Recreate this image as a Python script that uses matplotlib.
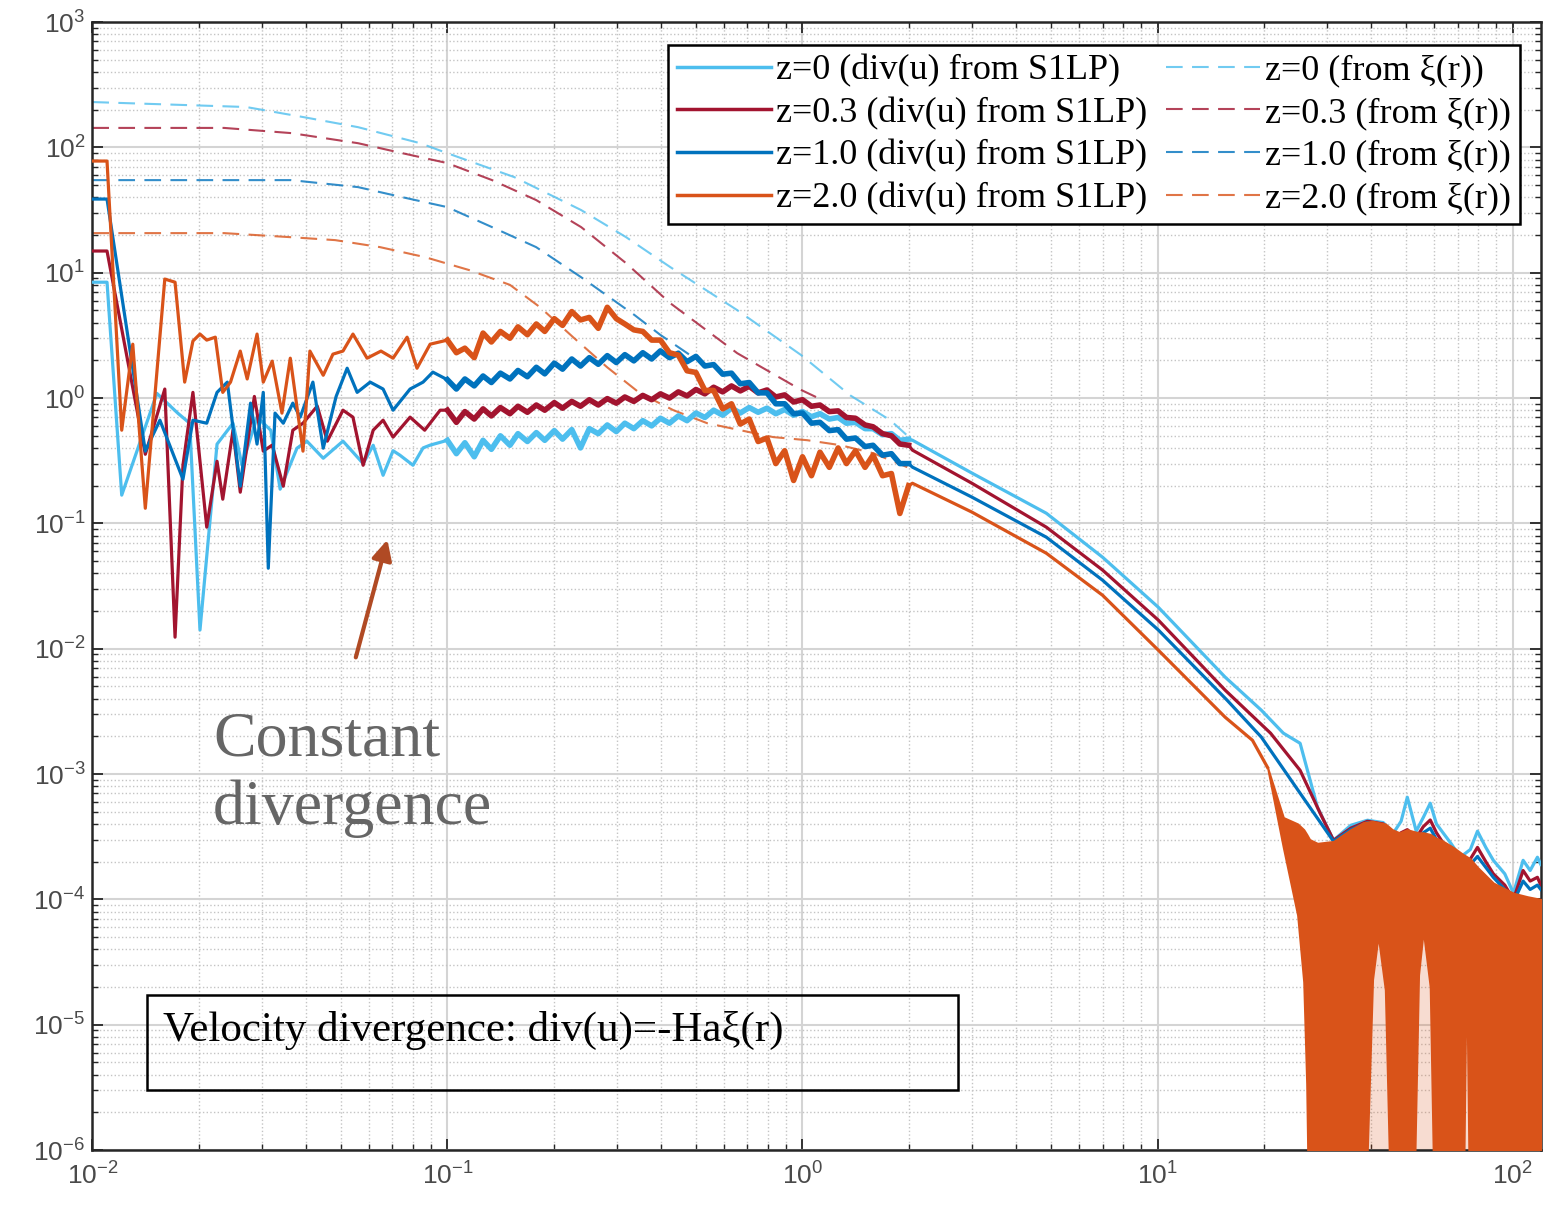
import matplotlib
matplotlib.use('Agg')
import matplotlib.pyplot as plt
from matplotlib.patches import Rectangle
from matplotlib.ticker import LogLocator, NullFormatter

plt.rcParams['font.family'] = ['Liberation Sans', 'DejaVu Sans']
plt.rcParams['mathtext.default'] = 'regular'

# MATLAB default colours
c_z0 = '#4DBEEE'
c_z03 = '#A2142F'
c_z1 = '#0072BD'
c_z2 = '#D95319'

# ---------- solid curves: div(u) from S1LP ----------
# small r (noisy part)
r_z0_lo = [0.0100, 0.0110, 0.0121, 0.0152, 0.0174, 0.0188, 0.0201, 0.02245, 0.0249, 0.0264,
           0.0291, 0.0318, 0.0338, 0.0377, 0.0402, 0.0447, 0.0508, 0.0542, 0.0579, 0.0618,
           0.0659, 0.0703, 0.0735, 0.0800, 0.0854, 0.0894]
v_z0_lo = [8.4, 8.4, 0.168, 1.09, 0.758, 0.63, 0.0141, 0.429, 0.63, 0.291,
           0.704, 0.554, 0.1875, 0.398, 0.453, 0.331, 0.453, 0.37, 0.30, 0.42,
           0.242, 0.38, 0.35, 0.291, 0.40, 0.421]

r_z03_lo = [0.0100, 0.0110, 0.0141, 0.0160, 0.0171, 0.0180, 0.0192, 0.0210, 0.02245, 0.0233,
            0.0249, 0.0261, 0.0286, 0.0303, 0.0321, 0.0345, 0.0367, 0.0392, 0.0430, 0.0459,
            0.0508, 0.0542, 0.0579, 0.0618, 0.0659, 0.0703, 0.0785, 0.0863, 0.0954]
v_z03_lo = [14.9, 14.9, 0.356, 1.18, 0.01236, 0.291, 1.11, 0.0933, 0.313, 0.156,
            0.554, 0.1774, 1.03, 0.377, 0.421, 0.198, 0.554, 0.63, 0.862, 0.453,
            0.80, 0.704, 0.291, 0.554, 0.666, 0.488, 0.704, 0.554, 0.80]

r_z1_lo = [0.0100, 0.0110, 0.0141, 0.0155, 0.0180, 0.0192, 0.0210, 0.02245, 0.0240, 0.0261,
           0.0279, 0.0291, 0.0303, 0.0313, 0.0327, 0.0345, 0.0367, 0.0385, 0.0418, 0.0447,
           0.0486, 0.0522, 0.0557, 0.0606, 0.0659, 0.0703, 0.0785, 0.0854, 0.0910]
v_z1_lo = [38.7, 38.7, 0.377, 0.666, 0.225, 0.666, 0.63, 1.11, 1.34, 0.198,
           0.911, 0.429, 1.11, 0.0439, 0.758, 0.63, 0.911, 0.704, 1.34, 0.398,
           1.03, 1.73, 1.11, 1.34, 1.18, 0.80, 1.18, 1.34, 1.61]

r_z2_lo = [0.0100, 0.0110, 0.0121, 0.0130, 0.0141, 0.0160, 0.0171, 0.0182, 0.0192, 0.0201,
           0.0210, 0.0222, 0.0233, 0.0245, 0.0261, 0.0273, 0.0291, 0.0303, 0.0321, 0.0342,
           0.0361, 0.0392, 0.0410, 0.0447, 0.0476, 0.0508, 0.0542, 0.0594, 0.0650, 0.0703,
           0.0770, 0.0821, 0.0894]
v_z2_lo = [77.8, 77.8, 0.554, 2.69, 0.132, 8.9, 8.4, 1.34, 2.85, 3.24,
           2.90, 3.06, 1.11, 1.34, 2.37, 1.42, 3.24, 1.34, 1.97, 0.758,
           2.08, 0.377, 2.37, 1.52, 2.24, 2.37, 3.24, 2.08, 2.37, 2.08,
           3.06, 1.73, 2.69]

# middle range 0.1 .. 2 (shared r points)
r_mid = [0.100, 0.106, 0.112, 0.119, 0.126, 0.133, 0.141, 0.150, 0.158, 0.168,
         0.178, 0.188, 0.200, 0.211, 0.224, 0.237, 0.251, 0.266, 0.282, 0.299,
         0.316, 0.335, 0.355, 0.376, 0.398, 0.422, 0.447, 0.473, 0.501, 0.531,
         0.562, 0.596, 0.631, 0.668, 0.708, 0.750, 0.794, 0.841, 0.891, 0.944,
         1.00, 1.06, 1.12, 1.19, 1.26, 1.33, 1.41, 1.50, 1.58, 1.68,
         1.78, 1.88, 1.99]
v_z0_mid = [0.46, 0.36, 0.44, 0.34, 0.46, 0.39, 0.50, 0.42, 0.52, 0.45,
            0.53, 0.46, 0.55, 0.47, 0.56, 0.40, 0.57, 0.52, 0.61, 0.54,
            0.63, 0.57, 0.66, 0.60, 0.69, 0.63, 0.72, 0.66, 0.76, 0.70,
            0.80, 0.73, 0.83, 0.76, 0.84, 0.77, 0.83, 0.75, 0.81, 0.73,
            0.78, 0.71, 0.75, 0.68, 0.70, 0.63, 0.64, 0.57, 0.57, 0.51,
            0.52, 0.46, 0.47]
v_z03_mid = [0.80, 0.64, 0.78, 0.68, 0.82, 0.72, 0.84, 0.75, 0.86, 0.77,
             0.88, 0.80, 0.92, 0.83, 0.94, 0.86, 0.97, 0.88, 0.99, 0.91,
             1.02, 0.94, 1.05, 0.97, 1.08, 1.00, 1.12, 1.04, 1.17, 1.08,
             1.22, 1.12, 1.25, 1.14, 1.24, 1.10, 1.16, 1.02, 1.06, 0.93,
             0.97, 0.86, 0.88, 0.78, 0.79, 0.70, 0.69, 0.61, 0.59, 0.52,
             0.50, 0.43, 0.42]
v_z1_mid = [1.40, 1.18, 1.42, 1.25, 1.50, 1.33, 1.58, 1.42, 1.66, 1.48,
            1.76, 1.56, 1.90, 1.70, 2.05, 1.80, 2.10, 1.86, 2.18, 1.92,
            2.22, 1.98, 2.30, 2.05, 2.38, 2.10, 2.28, 1.95, 2.15, 1.80,
            1.85, 1.55, 1.58, 1.30, 1.33, 1.10, 1.10, 0.90, 0.90, 0.75,
            0.76, 0.63, 0.64, 0.55, 0.56, 0.47, 0.48, 0.41, 0.42, 0.35,
            0.36, 0.30, 0.30]
v_z2_mid = [2.9, 2.3, 2.5, 2.1, 3.3, 2.8, 3.4, 3.0, 3.7, 3.2,
            3.9, 3.4, 4.3, 3.8, 4.9, 4.2, 4.4, 3.6, 5.3, 4.3,
            3.9, 3.5, 3.4, 2.9, 2.9, 2.3, 2.2, 1.65, 1.6, 1.15,
            1.15, 0.82, 0.90, 0.62, 0.68, 0.45, 0.48, 0.30, 0.38, 0.22,
            0.34, 0.24, 0.37, 0.28, 0.40, 0.30, 0.38, 0.28, 0.35, 0.24,
            0.25, 0.12, 0.20]

# large r, smooth decline
r_z0_far = [2.04, 3.0, 4.86, 7.0, 10.05, 15.5, 19.6, 22.6, 25.2, 28.2]
v_z0_far = [0.461, 0.252, 0.1205, 0.0537, 0.0214, 0.00593, 0.00323, 0.00212, 0.00176, 0.000543]
r_z03_far = [2.04, 3.0, 4.86, 7.0, 10.05, 15.5, 20.8, 25.2, 28.7]
v_z03_far = [0.384, 0.209, 0.0933, 0.0424, 0.0169, 0.00467, 0.00212, 0.00107, 0.000487]
r_z1_far = [2.04, 3.0, 4.86, 7.0, 10.05, 15.7, 19.6, 25.2]
v_z1_far = [0.281, 0.162, 0.0776, 0.0352, 0.0141, 0.00388, 0.00197, 0.000703]
r_z2_far = [2.04, 3.0, 4.86, 7.0, 10.05, 15.5, 18.5, 20.4]
v_z2_far = [0.209, 0.123, 0.0578, 0.0267, 0.00973, 0.00284, 0.00186, 0.00113]

# noisy tail r > 30 (top of the spikes)
r_tail = [31.3, 35.0, 39.0, 43.2, 46.1, 48.5, 50.5, 53.5, 56.0, 58.6, 61.0, 63.8,
          67.0, 71.2, 76.0, 79.6, 84.0, 88.2, 95.0, 100.5, 107.0, 112.0, 117.4, 120.0]
v_z0_tail = [0.000296, 0.00039, 0.000428, 0.00041, 0.000337, 0.00042, 0.000653, 0.00035,
             0.00045, 0.000585, 0.00040, 0.000337, 0.00028, 0.000217, 0.00025, 0.00035,
             0.00026, 0.000205, 0.00016, 0.000112, 0.000205, 0.00017, 0.000217, 0.00019]
v_z03_tail = [0.000296, 0.00037, 0.00042, 0.00040, 0.00031, 0.00034, 0.00036, 0.00031,
              0.00038, 0.00043, 0.00034, 0.00028, 0.00024, 0.00019, 0.00021, 0.00026,
              0.00020, 0.00016, 0.00013, 0.000100, 0.00017, 0.00014, 0.00015, 0.00013]
v_z1_tail = [0.00029, 0.00036, 0.00041, 0.00039, 0.00030, 0.00032, 0.00033, 0.00029,
             0.00034, 0.00037, 0.00030, 0.00026, 0.00022, 0.00018, 0.00019, 0.00022,
             0.00018, 0.00015, 0.00012, 0.000095, 0.00014, 0.00012, 0.00013, 0.00012]

# z=2.0 tail: band between the tops and the bottoms of the fast oscillation
r_z2_band = [20.4, 22.6, 24.8, 25.8, 26.3, 26.8, 28.2, 31.3, 35.0, 38.0, 40.3, 41.8,
             43.8, 45.8, 48.0, 50.5, 52.2, 54.3, 56.0, 58.6, 60.6, 63.8, 68.0, 72.2,
             74.1, 76.0, 79.6, 88.2, 100.5, 110.0, 120.0]
v_z2_band_hi = [0.00113, 0.00045, 0.00040, 0.00036, 0.00033, 0.00030, 0.00028, 0.00029,
                0.00036, 0.00041, 0.00042, 0.00041, 0.00040, 0.00036, 0.00034, 0.00036,
                0.00035, 0.00034, 0.00034, 0.00033, 0.00031, 0.00029, 0.00026, 0.00023,
                0.00022, 0.00021, 0.00018, 0.000135, 0.000112, 0.000105, 0.000100]
v_z2_band_lo = [0.00113, 0.00026, 7.5e-5, 2.2e-5, 3.4e-6, 1e-7, 1e-7, 1e-7,
                1e-7, 1e-7, 2.3e-5, 5.2e-5, 1.9e-5, 1e-7, 1e-7, 1e-7,
                1e-7, 2.5e-5, 5.7e-5, 2.0e-5, 1e-7, 1e-7, 1e-7, 1e-7,
                3.9e-5, 1e-7, 1e-7, 1e-7, 1e-7, 1e-7, 1e-7]

# ---------- dashed curves: from xi(r) ----------
r_z0_xi = [0.0100, 0.0271, 0.0395, 0.0560, 0.0838, 0.0998, 0.1541, 0.2381, 0.3187, 0.4240,
           0.6549, 0.9916, 1.363, 1.766, 2.04]
v_z0_xi = [230, 210, 174, 145, 108, 90, 58, 31.6, 19.2, 11.1, 5.03, 2.20, 1.05, 0.666, 0.461]
r_z03_xi = [0.0100, 0.0235, 0.0363, 0.0560, 0.0745, 0.0998, 0.1336, 0.1778, 0.2381, 0.3187,
            0.4240, 0.6549, 0.9916, 1.15]
v_z03_xi = [143, 143, 130, 108, 90, 75, 54.8, 38.0, 23.1, 11.9, 5.72, 2.28, 1.16, 0.95]
r_z1_xi = [0.0100, 0.0363, 0.0560, 0.0745, 0.0998, 0.1336, 0.1778, 0.2381, 0.3363, 0.3973, 0.4825]
v_z1_xi = [54.8, 54.8, 48.2, 40.1, 33.4, 23.1, 16.0, 9.2, 4.6, 3.2, 2.2]
r_z2_xi = [0.0100, 0.0235, 0.0363, 0.0483, 0.0646, 0.0866, 0.1151, 0.150, 0.1824, 0.2259,
           0.2818, 0.3489, 0.4330, 0.5389, 0.6677, 0.8271, 1.031, 1.277, 1.582, 1.972]
v_z2_xi = [20.7, 20.7, 19.2, 18.2, 16.0, 13.3, 10.5, 8.0, 5.3, 3.06,
           1.76, 1.09, 0.80, 0.63, 0.554, 0.488, 0.461, 0.421, 0.363, 0.281]

legend_solid = ['z=0 (div(u) from S1LP)', 'z=0.3 (div(u) from S1LP)',
                'z=1.0 (div(u) from S1LP)', 'z=2.0 (div(u) from S1LP)']
legend_xi = ['z=0 (from ξ(r))', 'z=0.3 (from ξ(r))', 'z=1.0 (from ξ(r))', 'z=2.0 (from ξ(r))']

fig = plt.figure(figsize=(15.49, 12.05), dpi=100)
ax = fig.add_axes([0.0596, 0.0456, 0.9351, 0.9361])
ax.set_xscale('log')
ax.set_yscale('log')

colors = [c_z0, c_z03, c_z1, c_z2]

# dashed first, solid on top
dashed = []
for r, v, c in zip([r_z0_xi, r_z03_xi, r_z1_xi, r_z2_xi],
                   [v_z0_xi, v_z03_xi, v_z1_xi, v_z2_xi], colors):
    ln, = ax.plot(r, v, color=c, lw=1.5, dashes=(8, 4.5), alpha=0.8, zorder=2)
    dashed.append(ln)

# z=2 tail, light layer where the oscillation dips out of the axes
light = [r >= 26.3 for r in r_z2_band]
ax.fill_between(r_z2_band, 1e-7, v_z2_band_lo, where=light, color=c_z2, alpha=0.2,
                lw=0, zorder=2.5)

solid = []
curves = [
    (r_z0_lo, v_z0_lo, v_z0_mid, r_z0_far, v_z0_far, r_tail, v_z0_tail),
    (r_z03_lo, v_z03_lo, v_z03_mid, r_z03_far, v_z03_far, r_tail, v_z03_tail),
    (r_z1_lo, v_z1_lo, v_z1_mid, r_z1_far, v_z1_far, r_tail, v_z1_tail),
    (r_z2_lo, v_z2_lo, v_z2_mid, r_z2_far, v_z2_far, [], []),
]
for (rl, vl, vm, rf, vf, rt, vt), c in zip(curves, colors):
    r = rl + r_mid + rf + rt
    v = vl + vm + vf + vt
    ln, = ax.plot(r, v, color=c, lw=2.3, zorder=3)
    # the 0.1-2 part is a fuzzy band in the original
    ax.plot(r_mid, vm, color=c, lw=4.0, zorder=3)
    solid.append(ln)

ax.fill_between(r_z2_band, v_z2_band_lo, v_z2_band_hi, color=c_z2, lw=1.5,
                edgecolor=c_z2, zorder=3.5)

ax.set_xlim(0.01, 120)
ax.set_ylim(1e-6, 1e3)

ax.xaxis.set_major_locator(LogLocator(base=10, numticks=20))
ax.yaxis.set_major_locator(LogLocator(base=10, numticks=20))
ax.xaxis.set_minor_locator(LogLocator(base=10, subs=range(2, 10), numticks=100))
ax.yaxis.set_minor_locator(LogLocator(base=10, subs=range(2, 10), numticks=100))
ax.xaxis.set_minor_formatter(NullFormatter())
ax.yaxis.set_minor_formatter(NullFormatter())

ax.set_axisbelow(True)
ax.grid(True, which='major', color='#d4d4d4', lw=1.5)
ax.grid(True, which='minor', color='#c4c4c4', ls=':', lw=1.0)

ax.tick_params(which='both', direction='in', top=True, right=True, colors='#262626',
               labelcolor='#4a4a4a', labelsize=19)
ax.tick_params(which='major', length=8, width=1.3)
ax.tick_params(which='minor', length=4.5, width=1.0)
ax.tick_params(axis='x', pad=9)
ax.tick_params(axis='y', pad=5)
for s in ax.spines.values():
    s.set_linewidth(1.8)
    s.set_color('#262626')

leg = ax.legend(solid + dashed, legend_solid + legend_xi, ncol=2, loc='upper right',
                bbox_to_anchor=(0.9857, 0.9796), borderaxespad=0,
                prop={'family': 'Liberation Serif', 'size': 26},
                handlelength=2.6, handletextpad=0.15, columnspacing=0.5,
                labelspacing=0.26, borderpad=0.25, fancybox=False, framealpha=1)
leg.get_frame().set_edgecolor('black')
leg.get_frame().set_linewidth(1.8)
leg.set_zorder(10)
for h in leg.legend_handles[:4]:
    h.set_linewidth(2.5)

ax.text(0.0833, 0.333, 'Constant\ndivergence', transform=ax.transAxes,
        family='Liberation Serif', fontsize=46, color='#666666', va='center', ha='left',
        linespacing=1.22, zorder=6)
ax.annotate('', xy=(0.2042, 0.5434), xytext=(0.1814, 0.4344), xycoords='axes fraction',
            arrowprops=dict(arrowstyle='-|>', color='#B04A24', lw=3, mutation_scale=30),
            zorder=6)

ax.add_patch(Rectangle((0.0378, 0.0532), 0.5599, 0.0842, transform=ax.transAxes,
                       fill=False, ec='black', lw=1.8, zorder=6))
ax.text(0.0489, 0.1064, 'Velocity divergence: div(u)=-Haξ(r)', transform=ax.transAxes,
        family='Liberation Serif', fontsize=31, color='black', va='center', ha='left',
        zorder=6)

fig.savefig('out.png', dpi=100, facecolor='white')
